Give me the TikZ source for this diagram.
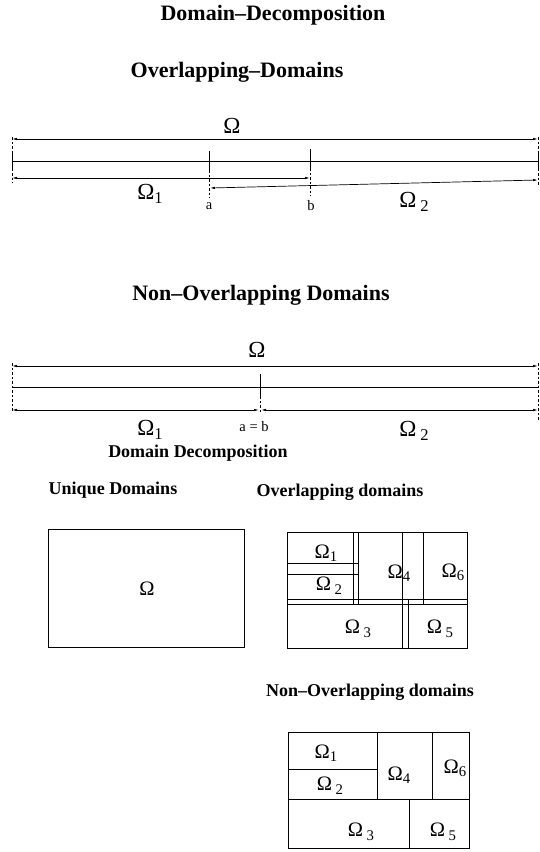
\documentclass[tikz,border=0pt]{standalone}
\usepackage{fontspec}
\usepackage{graphicx}
\setmainfont{Liberation Serif}
\usetikzlibrary{arrows.meta}
\newcommand\OmS[1]{Ω\raisebox{-0.35ex}{\scalebox{0.72}{#1}}}
\newcommand\OmT[1]{Ω\,\raisebox{-0.45ex}{\scalebox{0.72}{#1}}}
\begin{document}
\begin{tikzpicture}[x=1pt,y=-1pt,
  ln/.style={line width=0.7pt},
  dim/.style={line width=0.7pt,{Latex[length=5pt,width=2.4pt]}-{Latex[length=5pt,width=2.4pt]}},
  dsh/.style={line width=0.6pt,dash pattern=on 2.5pt off 2pt},
  ttl/.style={font=\fontsize{22}{24}\selectfont\bfseries, inner sep=0pt},
  sub/.style={font=\fontsize{18}{20}\selectfont\bfseries, inner sep=0pt},
  om/.style={font=\fontsize{23}{26}\selectfont, inner sep=0pt},
  bom/.style={font=\fontsize{20.5}{24}\selectfont, inner sep=0pt},
  sm/.style={font=\fontsize{14.5}{16}\selectfont, inner sep=0pt},
  box/.style={line width=0.8pt}]
\useasboundingbox (0,0) rectangle (540,852);

% ---------- titles
\node[ttl] (t1) at (273,15) {Domain–Decomposition};
\node[ttl] (t2) at (237,72) {Overlapping–Domains};

% ---------- overlapping 1D
\coordinate (oL) at (12,139);
\coordinate (oR) at (538,139);
\draw[dim] (oL) -- (oR);
\node[om] (oOm) at (232,126) {Ω};
\draw[ln] (12,161) -- (538,161);
\draw[ln] (12,152) -- (12,170);
\draw[ln] (538,152) -- (538,170);
\draw[dsh] (12,137) -- (12,183);
\draw[dsh] (538,137) -- (538,185);
\draw[ln] (209,151) -- (209,170);
\draw[dsh] (209,170) -- (209,198);
\draw[ln] (310,149) -- (310,168);
\draw[dsh] (310,168) -- (310,196);
\coordinate (o1a) at (12,178);
\coordinate (o1b) at (310,178);
\draw[dim] (o1a) -- (o1b);
\coordinate (o2a) at (210,188);
\coordinate (o2b) at (538,180);
\draw[dim] (o2a) -- (o2b);
\node[om] (oOm1) at (150,194) {\OmS{1}};
\node[sm] (oa) at (209,206) {a};
\node[sm] (ob) at (311,206) {b};
\node[om] (oOm2) at (414,202) {\OmT{2}};

% ---------- non-overlapping 1D
\node[ttl] (t3) at (261,295) {Non–Overlapping Domains};
\coordinate (nL) at (12,366);
\coordinate (nR) at (538,366);
\draw[dim] (nL) -- (nR);
\node[om] (nOm) at (257,350) {Ω};
\draw[ln] (12,387) -- (538,387);
\draw[dsh] (12,363) -- (12,412);
\draw[dsh] (538,363) -- (538,420);
\draw[ln] (260,374) -- (260,396);
\draw[dsh] (260,396) -- (260,412);
\coordinate (n1a) at (12,410);
\coordinate (n1b) at (259,410);
\coordinate (n2a) at (261,410);
\coordinate (n2b) at (538,410);
\draw[dim] (n1a) -- (n1b);
\draw[dim] (n2a) -- (n2b);
\node[om] (nOm1) at (150,430) {\OmS{1}};
\node[sm] (nab) at (254,427) {a = b};
\node[om] (nOm2) at (414,431) {\OmT{2}};
\node[sub] (t4) at (198,453) {Domain Decomposition};

% ---------- 2D
\node[sub] (t5) at (113,490) {Unique Domains};
\node[sub] (t6) at (340,492) {Overlapping domains};

\draw[box] (48,529) rectangle (244,647);
\node[bom] (uOm) at (147,589) {Ω};

% overlapping boxes
\draw[box] (287,532) rectangle (467,648);
\draw[ln] (287,574) -- (358,574);
\draw[ln] (287,563) -- (358,563);
\draw[ln] (353,532) -- (353,604);
\draw[ln] (358,532) -- (358,604);
\draw[ln] (402,532) -- (402,648);
\draw[ln] (408,599) -- (408,648);
\draw[ln] (423,532) -- (423,604);
\draw[ln] (287,599) -- (467,599);
\draw[ln] (287,604) -- (467,604);
\node[bom] (b1) at (326,553) {\OmS{1}};
\node[bom] (b2) at (329,586) {\OmT{2}};
\node[bom] (b4) at (399,573) {\OmS{4}};
\node[bom] (b6) at (453,572) {\OmS{6}};
\node[bom] (b3) at (358,629) {\OmT{3}};
\node[bom] (b5) at (440,629) {\OmT{5}};

\node[sub] (t7) at (370,692) {Non–Overlapping domains};

% non-overlapping boxes
\draw[box] (288,732) rectangle (469,848);
\draw[ln] (288,769) -- (377,769);
\draw[ln] (377,732) -- (377,799);
\draw[ln] (432,732) -- (432,799);
\draw[ln] (288,799) -- (469,799);
\draw[ln] (409,799) -- (409,848);
\node[bom] (c1) at (326,753) {\OmS{1}};
\node[bom] (c2) at (330,786) {\OmT{2}};
\node[bom] (c4) at (399,775) {\OmS{4}};
\node[bom] (c6) at (455,768) {\OmS{6}};
\node[bom] (c3) at (361,832) {\OmT{3}};
\node[bom] (c5) at (443,832) {\OmT{5}};
\end{tikzpicture}
\end{document}
